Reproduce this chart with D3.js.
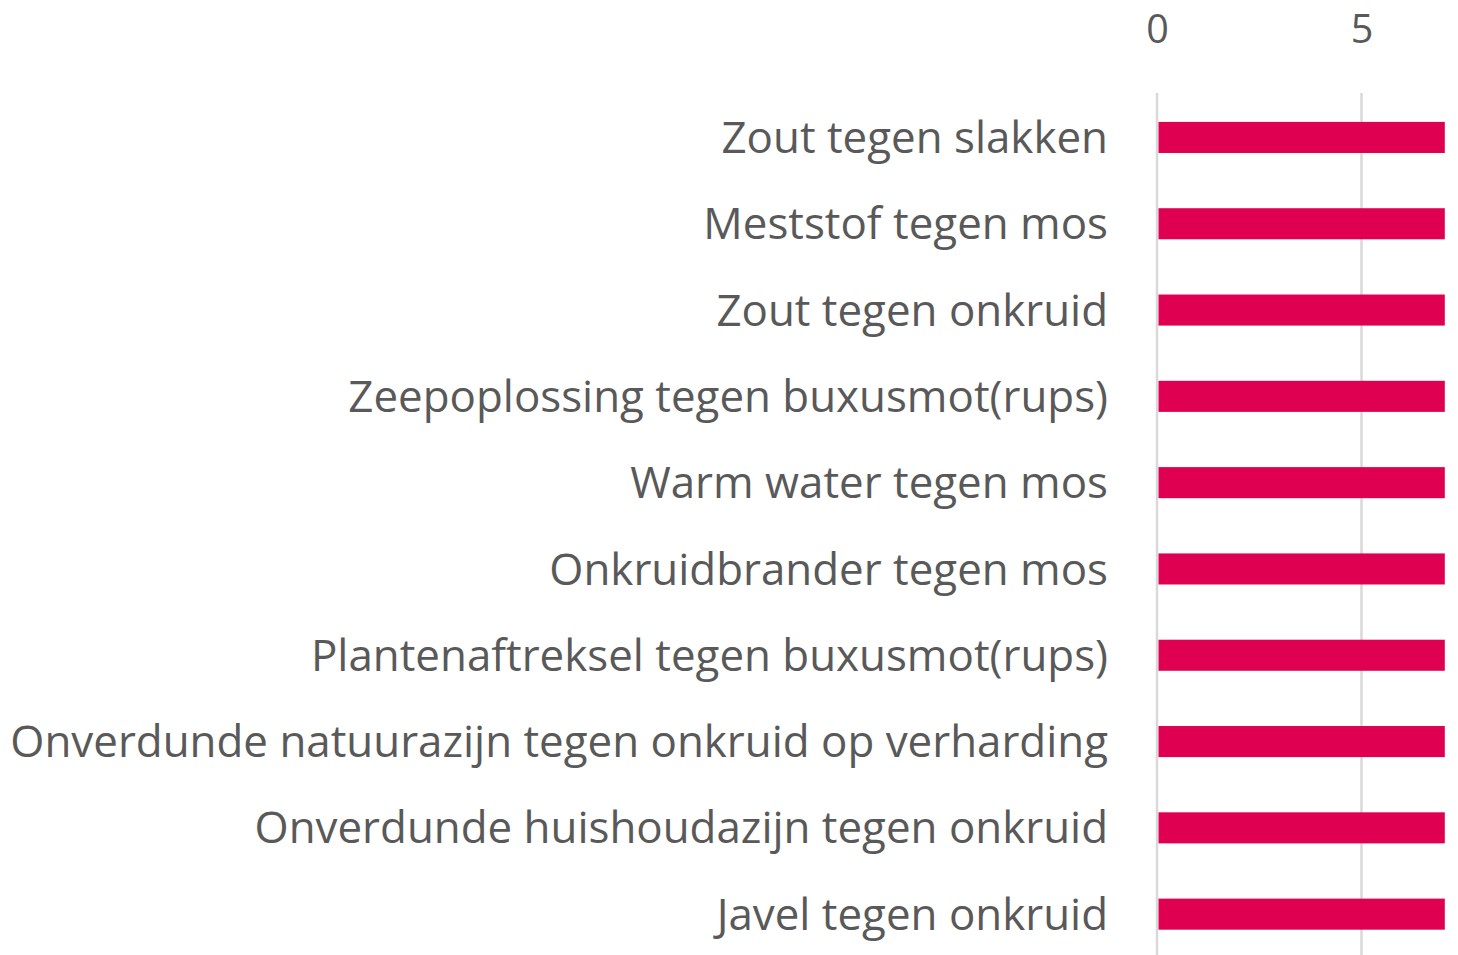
<!DOCTYPE html>
<html>
<head>
<meta charset="utf-8">
<script src="https://cdn.jsdelivr.net/npm/d3@7"></script>
<style>
  html, body { margin: 0; padding: 0; background: #ffffff; }
  svg { display: block; }
</style>
</head>
<body>
<svg id="chart" width="1458" height="955"></svg>
<script>
// Household remedies (category labels, top to bottom)
const categories = [
  "Zout tegen slakken",
  "Meststof tegen mos",
  "Zout tegen onkruid",
  "Zeepoplossing tegen buxusmot(rups)",
  "Warm water tegen mos",
  "Onkruidbrander tegen mos",
  "Plantenaftreksel tegen buxusmot(rups)",
  "Onverdunde natuurazijn tegen onkruid op verharding",
  "Onverdunde huishoudazijn tegen onkruid",
  "Javel tegen onkruid"
];
const values = [7, 7, 7, 7, 7, 7, 7, 7, 7, 7];
const tickValues = [0, 5];
const axisMax = 7;

const svg = d3.select("#chart");
const fontFamily = "'Open Sans', sans-serif";
const textColor = "#595959";
const H = 955;

const x = d3.scaleLinear().domain([0, axisMax]).range([1157, 1157 + 40.9 * axisMax]);
const y = d3.scaleBand().domain(categories).range([94.3, 94.3 + 86.3 * categories.length]).paddingInner(0.64).paddingOuter(0.32);

// Label font size: the longest label spans the space left of the axis
const probe = svg.append("text").attr("font-family", fontFamily).attr("font-size", 100)
  .text(categories.reduce((a, b) => a.length > b.length ? a : b));
const labelSize = Math.min(44, 100 * 1098 / probe.node().getComputedTextLength());
probe.remove();

// Gridlines
svg.append("g")
  .selectAll("line")
  .data(tickValues)
  .join("line")
  .attr("x1", d => x(d)).attr("x2", d => x(d))
  .attr("y1", 93).attr("y2", H)
  .attr("stroke", "#d9d9d9")
  .attr("stroke-width", 2.5);

// Top axis tick labels
const xAxis = d3.axisTop(x).tickValues(tickValues).tickFormat(d3.format("d")).tickSize(0).tickPadding(0);
const gx = svg.append("g").attr("transform", "translate(0,43)").call(xAxis);
gx.select(".domain").remove();
gx.selectAll("text")
  .attr("font-family", fontFamily)
  .attr("font-size", 39.5)
  .attr("fill", textColor)
  .attr("dy", 0);

// Bars
svg.append("g")
  .selectAll("rect")
  .data(values)
  .join("rect")
  .attr("x", x(0) + 1.5)
  .attr("y", (d, i) => y(categories[i]))
  .attr("width", d => x(d) - x(0))
  .attr("height", y.bandwidth())
  .attr("fill", "#e00052");

// Category labels
svg.append("g")
  .selectAll("text")
  .data(categories)
  .join("text")
  .attr("x", 1108)
  .attr("y", d => y(d) + y.bandwidth() / 2 + labelSize * 0.355)
  .attr("text-anchor", "end")
  .attr("font-family", fontFamily)
  .attr("font-size", labelSize)
  .attr("fill", textColor)
  .text(d => d);
</script>
</body>
</html>
